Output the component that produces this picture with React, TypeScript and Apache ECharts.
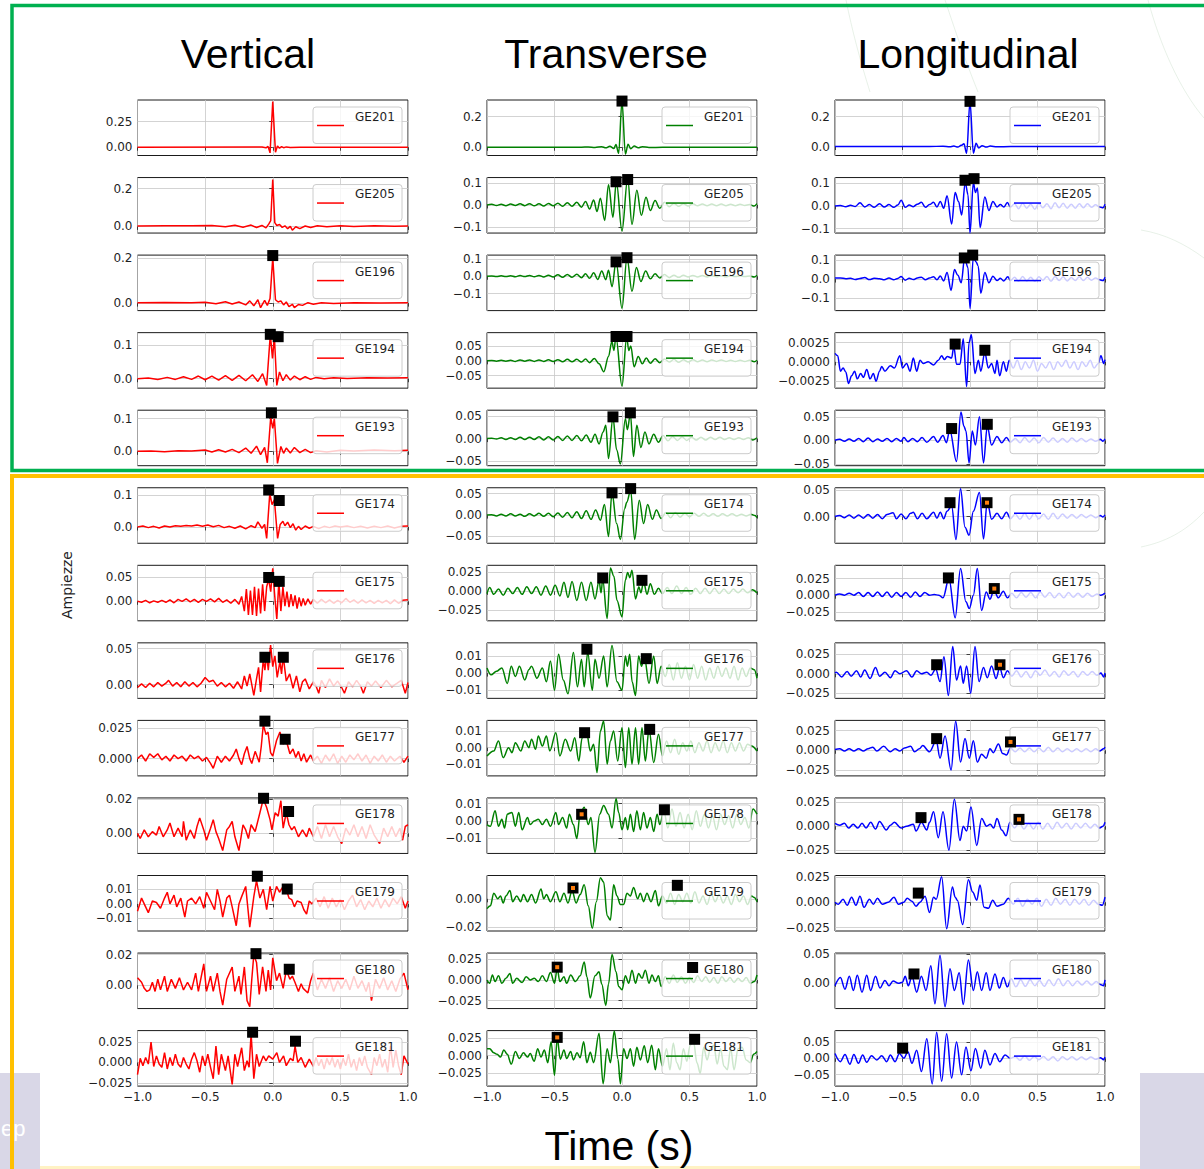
import React, { useEffect, useRef } from 'react';
import * as echarts from 'echarts';

const W = 1204;
const H = 1169;

const STATIONS = ['GE201', 'GE205', 'GE196', 'GE194', 'GE193', 'GE174', 'GE175', 'GE176', 'GE177', 'GE178', 'GE179', 'GE180', 'GE181'];
const COMPONENTS = ['Vertical', 'Transverse', 'Longitudinal'];
const COLORS = ['#ff0000', '#008000', '#0000ff'];
const X_TICK_STEP = 0.5;

// ---------------- Vertical component traces [time (s), amplitude] ----------------
const V_GE201 = [[-1,0],[-0.08,0.002],[-0.05,-0.006],[-0.035,0.008],[-0.02,-0.055],[0,0.445],[0.02,-0.05],[0.035,0.012],[0.05,-0.01],[0.065,0.006],[0.08,-0.005],[0.1,0.003],[0.13,-0.002],[0.2,0],[1,0]];
const V_GE205 = [[-1,0.002],[-0.8,0.004],[-0.6,0.003],[-0.45,0.005],[-0.35,-0.002],[-0.28,0.006],[-0.22,-0.004],[-0.16,0.007],[-0.12,-0.006],[-0.08,0.005],[-0.05,-0.008],[-0.03,0.012],[-0.015,0.03],[0,0.248],[0.015,0.02],[0.03,0.005],[0.05,0.01],[0.07,-0.005],[0.09,0.003],[0.11,-0.012],[0.13,0],[0.145,-0.02],[0.17,-0.002],[0.2,-0.012],[0.24,0.002],[0.28,-0.006],[0.33,0.004],[0.4,-0.002],[0.5,0.003],[0.6,0],[0.75,0.003],[0.9,0.001],[1,0.002]];
const V_GE196 = [[-1,0.002],[-0.8,0.003],[-0.6,0.002],[-0.5,0.004],[-0.42,-0.003],[-0.35,0.006],[-0.3,-0.004],[-0.25,0.005],[-0.2,-0.008],[-0.17,0.01],[-0.14,-0.012],[-0.11,0.015],[-0.09,-0.02],[-0.06,0.012],[-0.04,-0.01],[-0.02,0.02],[0,0.2],[0.02,0.015],[0.04,0.005],[0.06,0.01],[0.08,-0.008],[0.1,0.005],[0.12,-0.015],[0.145,-0.005],[0.16,-0.02],[0.19,-0.006],[0.22,-0.01],[0.26,0.002],[0.3,-0.005],[0.36,0.002],[0.45,-0.002],[0.6,0.002],[0.8,0],[1,0.002]];
const V_GE194 = [[-1,0],[-0.92,0.002],[-0.85,-0.002],[-0.78,0.004],[-0.72,-0.002],[-0.66,0.006],[-0.6,-0.002],[-0.55,0.008],[-0.5,-0.003],[-0.45,0.008],[-0.4,-0.004],[-0.35,0.009],[-0.3,-0.005],[-0.25,0.01],[-0.2,-0.006],[-0.15,0.012],[-0.11,-0.008],[-0.075,0.015],[-0.045,-0.02],[-0.018,0.132],[-0.002,0.06],[0.012,0.125],[0.03,-0.02],[0.05,0.02],[0.075,-0.006],[0.1,0.012],[0.13,-0.004],[0.16,0.008],[0.2,-0.003],[0.24,0.006],[0.28,-0.002],[0.32,0.004],[0.38,0],[0.45,0.003],[0.55,0.001],[0.7,0.003],[0.85,0.002],[1,0.003]];
const V_GE193 = [[-1,0],[-0.9,0.001],[-0.8,-0.001],[-0.7,0.002],[-0.6,0.001],[-0.5,0.004],[-0.45,-0.002],[-0.4,0.005],[-0.35,-0.002],[-0.3,0.006],[-0.25,-0.004],[-0.2,0.01],[-0.16,-0.006],[-0.12,0.016],[-0.09,-0.01],[-0.06,0.012],[-0.04,-0.035],[-0.015,0.105],[0,0.07],[0.012,0.1],[0.035,-0.037],[0.06,0.015],[0.08,-0.006],[0.1,0.01],[0.13,-0.005],[0.16,0.012],[0.2,-0.004],[0.24,0.006],[0.28,-0.004],[0.32,0.002],[0.4,-0.002],[0.5,0.003],[0.6,0.001],[0.75,0.004],[0.9,0.002],[1,0.003]];
const V_GE174 = [[-1,0],[-0.96,0.003],[-0.92,-0.002],[-0.88,0.002],[-0.84,-0.003],[-0.8,0.003],[-0.76,0],[-0.72,0.004],[-0.68,0.002],[-0.64,0.005],[-0.6,0.003],[-0.56,0.006],[-0.52,0.002],[-0.48,0.006],[-0.44,0.001],[-0.4,0.005],[-0.36,-0.002],[-0.32,0.002],[-0.28,-0.004],[-0.24,0.003],[-0.2,-0.006],[-0.16,0.004],[-0.13,-0.002],[-0.11,0.016],[-0.08,-0.004],[-0.06,0.008],[-0.045,-0.036],[-0.022,0.105],[-0.005,0.07],[0.012,0.085],[0.036,-0.036],[0.055,0.008],[0.075,0.018],[0.09,0.004],[0.11,0.015],[0.13,-0.002],[0.15,0.01],[0.17,-0.01],[0.19,0.002],[0.21,-0.008],[0.24,0.003],[0.27,-0.004],[0.3,0.002],[0.34,-0.005],[0.38,0.002],[0.42,-0.002],[0.46,0.003],[0.5,0],[0.55,0.003],[0.6,-0.002],[0.65,0.002],[0.7,-0.003],[0.75,0.002],[0.8,-0.002],[0.85,0.003],[0.9,-0.003],[0.95,0.002],[1,0.003]];
const V_GE175 = [[-1,0],[-0.97,-0.002],[-0.94,0.002],[-0.91,-0.003],[-0.88,0.001],[-0.85,-0.002],[-0.82,0.002],[-0.79,-0.002],[-0.76,0.003],[-0.73,-0.003],[-0.7,0.004],[-0.67,0],[-0.64,0.005],[-0.61,-0.001],[-0.58,0.004],[-0.55,-0.002],[-0.52,0.004],[-0.49,0],[-0.46,0.005],[-0.43,-0.001],[-0.4,0.006],[-0.37,-0.002],[-0.34,0.003],[-0.31,-0.004],[-0.28,0.004],[-0.25,-0.006],[-0.23,0.01],[-0.21,-0.02],[-0.195,0.025],[-0.18,-0.028],[-0.165,0.022],[-0.15,-0.028],[-0.135,0.03],[-0.12,-0.03],[-0.105,0.026],[-0.09,-0.025],[-0.075,0.035],[-0.06,-0.02],[-0.045,0.03],[-0.03,0.045],[-0.015,0.02],[0,0.068],[0.015,0.01],[0.03,-0.036],[0.045,0.04],[0.06,-0.02],[0.075,0.03],[0.09,-0.01],[0.105,0.02],[0.12,-0.012],[0.135,0.015],[0.15,-0.01],[0.165,0.012],[0.18,-0.015],[0.195,0.008],[0.21,-0.01],[0.225,0.006],[0.24,-0.008],[0.26,0.005],[0.28,-0.006],[0.3,0.004],[0.33,-0.004],[0.36,0.004],[0.39,-0.003],[0.42,0.003],[0.45,-0.004],[0.48,0.002],[0.51,-0.003],[0.54,0.006],[0.57,-0.002],[0.6,0.003],[0.63,-0.004],[0.66,0.003],[0.69,-0.003],[0.72,0.002],[0.75,-0.004],[0.78,0.002],[0.81,-0.003],[0.84,0.002],[0.87,-0.005],[0.9,0.003],[0.93,-0.004],[0.96,0.002],[1,0.003]];
const V_GE176 = [[-1,-0.004],[-0.97,0.001],[-0.94,-0.004],[-0.91,0.002],[-0.88,-0.003],[-0.85,0.003],[-0.82,-0.002],[-0.79,0.002],[-0.77,0.006],[-0.74,-0.002],[-0.71,0.003],[-0.68,-0.003],[-0.65,0.004],[-0.62,-0.002],[-0.59,0.003],[-0.56,-0.003],[-0.53,0.002],[-0.5,0.01],[-0.47,0.004],[-0.44,0.006],[-0.41,-0.002],[-0.38,0.003],[-0.35,-0.003],[-0.32,0.002],[-0.29,-0.005],[-0.26,0.004],[-0.23,-0.006],[-0.21,0.012],[-0.19,-0.002],[-0.17,0.015],[-0.14,-0.015],[-0.12,0.008],[-0.105,0.024],[-0.09,-0.01],[-0.07,0.035],[-0.058,0.02],[-0.045,0.042],[-0.033,0.02],[-0.016,0.055],[0,0.025],[0.016,0.04],[0.033,0.01],[0.053,0.032],[0.065,0.015],[0.077,0.04],[0.1,0.005],[0.125,0.015],[0.15,-0.005],[0.175,0.012],[0.2,-0.01],[0.22,0.004],[0.24,0.008],[0.27,-0.006],[0.3,0.004],[0.32,-0.002],[0.34,-0.012],[0.36,0.006],[0.39,-0.004],[0.42,0.008],[0.45,-0.002],[0.48,0.005],[0.51,-0.004],[0.53,-0.012],[0.56,0.004],[0.59,-0.003],[0.62,0.006],[0.65,-0.002],[0.67,-0.012],[0.7,0.004],[0.73,-0.002],[0.76,0.005],[0.8,-0.004],[0.84,0.006],[0.88,-0.003],[0.92,0.002],[0.95,0.006],[0.98,-0.012],[1,0.003]];
const V_GE177 = [[-1,0],[-0.97,0.003],[-0.94,-0.002],[-0.91,0.004],[-0.88,0.001],[-0.85,0.004],[-0.82,-0.001],[-0.79,0.002],[-0.76,-0.002],[-0.73,0.003],[-0.7,0],[-0.67,0.002],[-0.64,-0.002],[-0.61,0.003],[-0.58,0],[-0.55,0.002],[-0.52,-0.002],[-0.49,0.001],[-0.46,-0.004],[-0.44,-0.008],[-0.41,0.002],[-0.38,-0.003],[-0.35,0.002],[-0.32,-0.002],[-0.29,0.003],[-0.27,0.008],[-0.25,0],[-0.23,-0.005],[-0.21,0.004],[-0.19,0.01],[-0.17,0],[-0.155,-0.004],[-0.13,0.006],[-0.1,-0.003],[-0.085,0.01],[-0.07,0.028],[-0.05,0.02],[-0.035,0.022],[-0.016,0.005],[0,0.002],[0.028,0.015],[0.053,0.022],[0.077,0.012],[0.1,0.015],[0.127,0.004],[0.15,0.008],[0.17,0.001],[0.19,0.006],[0.21,-0.002],[0.23,0.004],[0.25,-0.003],[0.28,0.003],[0.3,-0.002],[0.33,0.002],[0.36,-0.004],[0.39,0.003],[0.42,-0.002],[0.45,0.004],[0.48,-0.004],[0.51,0.002],[0.54,-0.003],[0.57,0.003],[0.6,-0.001],[0.63,0.004],[0.66,-0.002],[0.69,0.003],[0.72,-0.004],[0.75,0.002],[0.78,-0.002],[0.81,0.003],[0.84,-0.003],[0.87,0.002],[0.9,-0.002],[0.94,0.002],[0.97,-0.003],[1,0.002]];
const V_GE178 = [[-1,0],[-0.98,-0.003],[-0.95,0.002],[-0.92,-0.002],[-0.89,0.001],[-0.86,-0.001],[-0.84,0.004],[-0.81,-0.002],[-0.78,0.002],[-0.76,0.006],[-0.73,-0.002],[-0.7,0.003],[-0.67,-0.002],[-0.66,0.007],[-0.64,-0.004],[-0.61,0.002],[-0.58,-0.003],[-0.56,0.004],[-0.54,0.009],[-0.51,0.002],[-0.49,-0.004],[-0.46,0.003],[-0.44,0.008],[-0.42,0.001],[-0.4,-0.003],[-0.37,-0.01],[-0.34,0.002],[-0.32,0.004],[-0.3,0.007],[-0.28,-0.002],[-0.25,-0.01],[-0.22,0.005],[-0.2,0.002],[-0.18,-0.003],[-0.16,0.005],[-0.13,0.001],[-0.095,0.012],[-0.07,0.02],[-0.045,0.015],[-0.02,0.008],[-0.006,0.002],[0.018,0.012],[0.04,0.01],[0.06,0.019],[0.077,0.003],[0.1,0.012],[0.12,0.005],[0.14,0.002],[0.16,0.004],[0.19,-0.002],[0.22,0.002],[0.25,-0.002],[0.27,0.003],[0.3,-0.002],[0.33,0.004],[0.36,-0.003],[0.39,0.005],[0.42,-0.002],[0.45,0.004],[0.48,-0.002],[0.51,-0.006],[0.54,0.003],[0.57,-0.001],[0.6,0.005],[0.63,-0.002],[0.66,0.004],[0.69,-0.003],[0.72,0.005],[0.75,-0.001],[0.79,-0.006],[0.82,0.003],[0.85,-0.002],[0.88,0.004],[0.91,-0.002],[0.94,0.003],[0.96,-0.004],[0.98,0.004],[1,0.005]];
const V_GE179 = [[-1,-0.005],[-0.97,0.004],[-0.94,-0.002],[-0.92,-0.006],[-0.89,0.002],[-0.86,0.001],[-0.83,-0.003],[-0.8,0.004],[-0.78,0.008],[-0.76,0],[-0.73,0.006],[-0.71,-0.002],[-0.68,0.004],[-0.65,-0.009],[-0.63,0.002],[-0.6,0.004],[-0.57,0],[-0.54,0.005],[-0.51,-0.003],[-0.49,0.008],[-0.46,0.002],[-0.43,-0.004],[-0.41,0.01],[-0.39,0.002],[-0.37,-0.009],[-0.34,0.004],[-0.32,0.006],[-0.3,-0.002],[-0.27,-0.015],[-0.25,0],[-0.23,0.005],[-0.2,0.012],[-0.17,-0.016],[-0.14,0.005],[-0.12,0.016],[-0.095,0.004],[-0.07,0.01],[-0.045,-0.004],[-0.02,0.012],[0,0.002],[0.028,0.012],[0.05,0.008],[0.077,0.012],[0.1,0.01],[0.12,0.004],[0.14,0.003],[0.16,-0.002],[0.18,0.002],[0.21,0.001],[0.23,-0.004],[0.25,-0.007],[0.27,0.002],[0.29,0],[0.32,0.004],[0.35,-0.002],[0.38,0.005],[0.41,-0.003],[0.44,0.004],[0.47,-0.002],[0.5,0.003],[0.53,-0.004],[0.56,0.002],[0.59,0.006],[0.62,-0.002],[0.65,0.003],[0.68,-0.004],[0.71,0.002],[0.74,-0.002],[0.77,0.004],[0.8,-0.003],[0.83,0.003],[0.86,-0.002],[0.89,0.004],[0.92,0],[0.95,0.005],[0.98,-0.003],[1,0.002]];
const V_GE180 = [[-1,0.005],[-0.97,0.002],[-0.95,-0.002],[-0.93,-0.004],[-0.91,-0.003],[-0.89,0.002],[-0.87,-0.004],[-0.85,0.004],[-0.83,-0.003],[-0.8,0.006],[-0.78,-0.004],[-0.75,0.004],[-0.72,-0.002],[-0.69,0.005],[-0.66,-0.003],[-0.63,0.002],[-0.6,-0.003],[-0.57,0.008],[-0.55,-0.004],[-0.51,0.014],[-0.49,-0.004],[-0.46,0.006],[-0.44,-0.004],[-0.41,0.008],[-0.39,-0.004],[-0.37,-0.013],[-0.34,0.004],[-0.3,0.012],[-0.28,-0.004],[-0.25,0.006],[-0.235,-0.006],[-0.21,0.012],[-0.19,-0.01],[-0.17,-0.014],[-0.155,0.004],[-0.14,0.02],[-0.12,0.015],[-0.1,-0.006],[-0.075,0.012],[-0.05,-0.004],[-0.033,0.01],[-0.016,-0.003],[0,0.018],[0.028,0.003],[0.05,0.008],[0.077,-0.002],[0.1,0.01],[0.127,0.004],[0.145,0.006],[0.164,0.002],[0.19,-0.004],[0.21,0.001],[0.225,-0.002],[0.26,-0.005],[0.28,0.003],[0.3,0.008],[0.33,-0.003],[0.36,0.004],[0.39,-0.002],[0.42,0.005],[0.45,-0.004],[0.48,0.003],[0.51,-0.002],[0.54,0.004],[0.57,-0.003],[0.6,0.006],[0.63,-0.002],[0.66,0.003],[0.69,-0.004],[0.71,0.002],[0.73,-0.01],[0.76,0.004],[0.79,-0.002],[0.82,0.005],[0.85,-0.003],[0.88,0.003],[0.91,-0.004],[0.94,0.004],[0.97,0.008],[1,-0.003]];
const V_GE181 = [[-1,-0.015],[-0.98,0.005],[-0.96,-0.004],[-0.94,0.006],[-0.92,-0.002],[-0.9,0.025],[-0.88,-0.005],[-0.86,0.008],[-0.84,-0.002],[-0.82,-0.006],[-0.8,0.012],[-0.78,-0.008],[-0.76,0.006],[-0.74,-0.004],[-0.72,0.01],[-0.7,-0.002],[-0.68,-0.006],[-0.66,0.006],[-0.64,-0.002],[-0.62,-0.008],[-0.6,0.004],[-0.58,0.012],[-0.56,0.002],[-0.54,-0.012],[-0.52,0.008],[-0.5,-0.004],[-0.48,0.01],[-0.46,-0.006],[-0.44,-0.02],[-0.42,0.02],[-0.4,-0.015],[-0.38,0.01],[-0.35,-0.01],[-0.33,0.008],[-0.3,-0.027],[-0.28,0.01],[-0.26,-0.005],[-0.23,0.018],[-0.21,-0.01],[-0.19,0.002],[-0.175,-0.006],[-0.16,0.035],[-0.14,-0.02],[-0.12,0.01],[-0.1,-0.005],[-0.07,0.008],[-0.05,0.002],[-0.03,0.008],[0,0.004],[0.03,0.012],[0.05,0],[0.08,0.008],[0.1,-0.004],[0.13,0.005],[0.15,0.002],[0.165,0.02],[0.185,0],[0.21,0.006],[0.24,-0.006],[0.27,0.004],[0.3,-0.005],[0.32,0.006],[0.34,-0.004],[0.36,0.004],[0.38,-0.008],[0.4,0.005],[0.42,-0.003],[0.44,0.006],[0.46,-0.006],[0.48,0.004],[0.5,-0.008],[0.52,0.005],[0.54,-0.004],[0.56,0.01],[0.58,-0.006],[0.6,0.004],[0.62,-0.01],[0.64,0.006],[0.66,-0.004],[0.68,0.008],[0.7,-0.006],[0.73,-0.015],[0.75,0.006],[0.77,-0.004],[0.79,0.01],[0.81,-0.006],[0.83,0.004],[0.85,-0.012],[0.87,0.02],[0.89,-0.006],[0.91,0.015],[0.93,-0.004],[0.95,-0.015],[0.97,0.008],[1,-0.002]];

// ---------------- Transverse component traces ----------------
const T_GE201 = [[-1,0],[-0.3,0],[-0.25,0.002],[-0.2,-0.002],[-0.15,0.004],[-0.12,-0.004],[-0.09,0.006],[-0.06,-0.008],[-0.045,0.018],[-0.025,-0.04],[0,0.3],[0.025,-0.045],[0.045,0.02],[0.065,-0.01],[0.09,0.008],[0.12,-0.004],[0.15,0.004],[0.2,-0.002],[0.3,0],[1,0]];
const T_GE205 = [[-1,0],[-0.965,0.003],[-0.93,-0.002],[-0.895,0.003],[-0.86,-0.003],[-0.825,0.004],[-0.79,-0.002],[-0.755,0.005],[-0.72,-0.003],[-0.685,0.006],[-0.65,-0.004],[-0.615,0.005],[-0.58,-0.005],[-0.545,0.007],[-0.51,-0.004],[-0.475,0.008],[-0.44,-0.006],[-0.405,0.01],[-0.37,-0.006],[-0.335,0.012],[-0.3,-0.01],[-0.27,0.016],[-0.24,-0.018],[-0.21,0.022],[-0.185,-0.03],[-0.16,0.03],[-0.128,-0.07],[-0.1,0.092],[-0.067,-0.055],[-0.042,0.105],[0,-0.118],[0.042,0.12],[0.074,-0.088],[0.11,0.067],[0.143,-0.047],[0.178,0.035],[0.21,-0.025],[0.245,0.02],[0.28,-0.015],[0.315,0.012],[0.35,-0.008],[0.385,0.007],[0.42,-0.006],[0.455,0.006],[0.49,-0.005],[0.525,0.005],[0.56,-0.004],[0.595,0.004],[0.63,-0.004],[0.665,0.004],[0.7,-0.003],[0.735,0.004],[0.77,-0.003],[0.805,0.003],[0.84,-0.003],[0.875,0.003],[0.91,-0.002],[0.945,0.002],[0.98,-0.005],[1,0.006]];
const T_GE196 = [[-1,0],[-0.965,0.002],[-0.93,-0.002],[-0.895,0.003],[-0.86,-0.002],[-0.825,0.003],[-0.79,-0.003],[-0.755,0.004],[-0.72,-0.002],[-0.685,0.005],[-0.65,-0.003],[-0.615,0.005],[-0.58,-0.004],[-0.545,0.006],[-0.51,-0.004],[-0.475,0.008],[-0.44,-0.006],[-0.405,0.01],[-0.37,-0.006],[-0.335,0.012],[-0.3,-0.008],[-0.27,0.014],[-0.24,-0.012],[-0.21,0.02],[-0.18,-0.018],[-0.15,0.03],[-0.12,-0.02],[-0.1,0.035],[-0.074,-0.06],[-0.044,0.085],[0,-0.185],[0.037,0.107],[0.074,-0.087],[0.107,0.05],[0.14,-0.03],[0.175,0.03],[0.21,-0.015],[0.245,0.015],[0.28,-0.01],[0.315,0.01],[0.35,-0.008],[0.385,0.006],[0.42,-0.006],[0.455,0.006],[0.49,-0.004],[0.525,0.005],[0.56,-0.004],[0.595,0.004],[0.63,-0.004],[0.665,0.004],[0.7,-0.003],[0.735,0.003],[0.77,-0.003],[0.805,0.003],[0.84,-0.002],[0.875,0.003],[0.91,-0.002],[0.945,0.002],[0.98,-0.004],[1,0.006]];
const T_GE194 = [[-1,0],[-0.965,0.001],[-0.93,-0.001],[-0.895,0.002],[-0.86,-0.001],[-0.825,0.002],[-0.79,-0.002],[-0.755,0.003],[-0.72,-0.001],[-0.685,0.003],[-0.65,-0.002],[-0.615,0.003],[-0.58,-0.002],[-0.545,0.004],[-0.51,-0.002],[-0.475,0.004],[-0.44,-0.003],[-0.405,0.005],[-0.37,-0.003],[-0.335,0.005],[-0.3,-0.004],[-0.27,0.006],[-0.24,-0.006],[-0.205,0.008],[-0.17,-0.01],[-0.135,-0.037],[-0.1,0.015],[-0.075,0.065],[-0.06,0.035],[-0.045,0.08],[0,-0.085],[0.035,0.08],[0.05,0.035],[0.065,0.05],[0.09,-0.02],[0.12,0.015],[0.15,-0.01],[0.18,0.01],[0.21,-0.008],[0.245,0.007],[0.28,-0.006],[0.315,0.006],[0.35,-0.004],[0.385,0.005],[0.42,-0.005],[0.455,0.004],[0.49,-0.004],[0.525,0.004],[0.56,-0.003],[0.595,0.003],[0.63,-0.003],[0.665,0.003],[0.7,-0.002],[0.735,0.003],[0.77,-0.002],[0.805,0.002],[0.84,-0.002],[0.875,0.002],[0.91,-0.002],[0.945,0.002],[0.98,-0.003],[1,0.002]];
const T_GE193 = [[-1,0],[-0.965,0.001],[-0.93,-0.001],[-0.895,0.002],[-0.86,-0.002],[-0.825,0.002],[-0.79,-0.002],[-0.755,0.003],[-0.72,-0.002],[-0.685,0.003],[-0.65,-0.002],[-0.615,0.004],[-0.58,-0.003],[-0.545,0.004],[-0.51,-0.003],[-0.475,0.005],[-0.44,-0.004],[-0.405,0.006],[-0.37,-0.004],[-0.335,0.007],[-0.3,-0.005],[-0.265,0.008],[-0.23,-0.008],[-0.2,0.01],[-0.17,-0.012],[-0.14,0.015],[-0.12,0.03],[-0.1,-0.045],[-0.067,0.048],[-0.04,-0.025],[-0.012,-0.057],[0.025,0.045],[0.04,0.02],[0.062,0.056],[0.085,-0.04],[0.11,0.03],[0.14,-0.02],[0.17,0.015],[0.2,-0.012],[0.235,0.01],[0.27,-0.008],[0.305,0.007],[0.34,-0.005],[0.375,0.005],[0.41,-0.004],[0.445,0.004],[0.48,-0.004],[0.515,0.003],[0.55,-0.003],[0.585,0.003],[0.62,-0.003],[0.655,0.003],[0.69,-0.002],[0.725,0.003],[0.76,-0.002],[0.795,0.002],[0.83,-0.002],[0.865,0.002],[0.9,-0.002],[0.935,0.002],[0.97,-0.003],[1,0.002]];
const T_GE174 = [[-1,0],[-0.965,0.001],[-0.93,-0.002],[-0.895,0.002],[-0.86,-0.002],[-0.825,0.003],[-0.79,-0.002],[-0.755,0.002],[-0.72,-0.003],[-0.685,0.003],[-0.65,-0.002],[-0.615,0.004],[-0.58,-0.003],[-0.545,0.004],[-0.51,-0.004],[-0.475,0.005],[-0.44,-0.005],[-0.405,0.006],[-0.37,-0.006],[-0.335,0.008],[-0.3,-0.008],[-0.265,0.01],[-0.23,-0.01],[-0.195,0.012],[-0.16,-0.012],[-0.13,0.025],[-0.1,-0.05],[-0.074,0.052],[-0.04,-0.02],[-0.012,-0.057],[0.02,0.015],[0.035,0.03],[0.064,0.058],[0.094,-0.057],[0.128,0.035],[0.16,-0.02],[0.19,0.025],[0.225,-0.01],[0.255,0.012],[0.29,-0.008],[0.325,0.006],[0.36,-0.006],[0.395,0.006],[0.43,-0.005],[0.465,0.004],[0.5,-0.004],[0.535,0.004],[0.57,-0.003],[0.605,0.004],[0.64,-0.003],[0.675,0.003],[0.71,-0.003],[0.745,0.003],[0.78,-0.002],[0.815,0.003],[0.85,-0.002],[0.885,0.002],[0.92,-0.002],[0.955,0.002],[0.985,-0.001],[1,-0.006]];
const T_GE175 = [[-1,-0.003],[-0.98,0.005],[-0.95,-0.004],[-0.915,0.003],[-0.88,-0.005],[-0.845,0.004],[-0.81,-0.003],[-0.775,0.005],[-0.74,-0.004],[-0.705,0.006],[-0.67,-0.003],[-0.635,0.006],[-0.6,-0.005],[-0.565,0.007],[-0.53,-0.005],[-0.495,0.008],[-0.46,-0.006],[-0.43,0.012],[-0.4,-0.008],[-0.37,0.013],[-0.335,-0.012],[-0.3,0.012],[-0.265,-0.012],[-0.23,0.012],[-0.2,-0.01],[-0.17,0.014],[-0.155,-0.002],[-0.143,0.016],[-0.11,-0.036],[-0.086,0.031],[-0.06,0.02],[-0.037,-0.012],[0,-0.034],[0.025,0.015],[0.042,0.025],[0.058,0.018],[0.074,0.028],[0.1,-0.01],[0.125,0.006],[0.14,-0.002],[0.16,0.013],[0.185,-0.004],[0.21,0.01],[0.24,-0.004],[0.27,0.004],[0.3,-0.003],[0.335,0.005],[0.37,-0.003],[0.405,0.007],[0.44,-0.003],[0.475,0.005],[0.51,-0.004],[0.545,0.004],[0.58,-0.003],[0.615,0.004],[0.65,-0.003],[0.685,0.004],[0.72,-0.003],[0.755,0.003],[0.79,-0.003],[0.825,0.003],[0.86,-0.002],[0.895,0.003],[0.93,-0.002],[0.965,0.002],[1,-0.002]];
const T_GE176 = [[-1,0.003],[-0.97,-0.001],[-0.93,0.001],[-0.89,0.003],[-0.85,-0.006],[-0.82,0.004],[-0.79,-0.002],[-0.76,0.004],[-0.72,-0.004],[-0.69,0.002],[-0.67,0.004],[-0.63,-0.003],[-0.59,0.003],[-0.56,-0.005],[-0.53,0.007],[-0.5,-0.01],[-0.47,0.011],[-0.435,-0.004],[-0.4,-0.012],[-0.36,0.012],[-0.33,-0.008],[-0.3,0.008],[-0.28,-0.008],[-0.254,0.012],[-0.22,-0.01],[-0.2,0.008],[-0.17,-0.003],[-0.136,0.01],[-0.11,-0.008],[-0.074,0.016],[-0.037,-0.005],[0,-0.01],[0.025,0.01],[0.04,0.004],[0.057,0.011],[0.075,-0.005],[0.1,-0.013],[0.123,0.01],[0.145,0.004],[0.165,0.01],[0.2,-0.006],[0.235,0.01],[0.26,-0.006],[0.29,0.004],[0.32,-0.002],[0.35,0.005],[0.38,-0.004],[0.41,0.006],[0.44,-0.003],[0.47,0.004],[0.5,-0.004],[0.53,0.005],[0.56,-0.003],[0.59,0.004],[0.62,-0.004],[0.65,0.003],[0.68,-0.003],[0.71,0.004],[0.74,-0.002],[0.77,0.003],[0.8,-0.003],[0.83,0.004],[0.86,-0.004],[0.89,0.003],[0.92,-0.002],[0.95,0.003],[0.98,0.002],[1,-0.003]];
const T_GE177 = [[-1,-0.005],[-0.95,-0.002],[-0.915,0.004],[-0.88,-0.006],[-0.84,0],[-0.815,-0.003],[-0.79,0.003],[-0.75,-0.002],[-0.72,0.004],[-0.69,0],[-0.67,0.005],[-0.64,-0.001],[-0.62,0.007],[-0.59,0.001],[-0.56,0.007],[-0.535,-0.002],[-0.49,0.009],[-0.46,-0.005],[-0.42,0.005],[-0.38,-0.002],[-0.35,0.006],[-0.32,-0.008],[-0.295,0.006],[-0.26,0.008],[-0.235,-0.002],[-0.21,0.002],[-0.185,-0.015],[-0.16,0.01],[-0.136,0.016],[-0.11,-0.01],[-0.086,0.004],[-0.062,0.01],[-0.032,-0.008],[0,0.012],[0.025,-0.012],[0.05,0.012],[0.074,-0.01],[0.1,0.012],[0.123,-0.01],[0.148,0.012],[0.173,-0.008],[0.2,0.011],[0.235,-0.009],[0.27,0.008],[0.3,-0.005],[0.33,0.004],[0.36,-0.003],[0.39,0.005],[0.42,-0.004],[0.45,0.003],[0.48,-0.002],[0.51,0.004],[0.54,-0.003],[0.57,0.003],[0.6,-0.002],[0.63,0.004],[0.66,-0.003],[0.69,0.003],[0.72,-0.002],[0.75,0.004],[0.78,-0.003],[0.81,0.003],[0.84,-0.002],[0.87,0.003],[0.9,-0.002],[0.93,0.002],[0.96,0.001],[1,-0.002]];
const T_GE178 = [[-1,-0.002],[-0.975,-0.003],[-0.94,0.006],[-0.915,-0.003],[-0.89,0.001],[-0.87,-0.004],[-0.85,0.004],[-0.815,0.005],[-0.79,-0.003],[-0.765,0.005],[-0.74,-0.005],[-0.7,0.002],[-0.68,-0.002],[-0.65,0],[-0.62,0.001],[-0.59,-0.002],[-0.56,0.001],[-0.53,-0.003],[-0.49,0.005],[-0.47,-0.002],[-0.44,0.002],[-0.41,-0.004],[-0.39,0.004],[-0.36,-0.002],[-0.335,-0.01],[-0.31,0.004],[-0.28,0.008],[-0.25,-0.002],[-0.23,0.002],[-0.2,-0.018],[-0.165,0.004],[-0.136,0.009],[-0.1,0.004],[-0.074,-0.004],[-0.044,0.013],[-0.025,0.005],[0,-0.005],[0.025,0.002],[0.042,-0.005],[0.062,0.004],[0.086,-0.006],[0.11,0.006],[0.136,-0.005],[0.16,0.005],[0.185,-0.004],[0.21,0.002],[0.235,-0.006],[0.26,0.004],[0.28,-0.002],[0.31,0.006],[0.34,-0.004],[0.37,0.007],[0.4,-0.003],[0.43,0.005],[0.46,-0.004],[0.49,0.004],[0.52,-0.005],[0.55,0.006],[0.58,-0.003],[0.61,0.004],[0.64,-0.004],[0.67,0.003],[0.7,-0.005],[0.73,0.004],[0.76,-0.002],[0.79,0.003],[0.82,-0.004],[0.85,0.004],[0.88,-0.002],[0.91,0.002],[0.94,-0.004],[0.97,0.007],[1,0.004]];
const T_GE179 = [[-1,-0.007],[-0.975,-0.005],[-0.95,0.004],[-0.92,0],[-0.9,0.002],[-0.88,-0.003],[-0.86,0.002],[-0.83,0.006],[-0.81,-0.002],[-0.78,0.002],[-0.75,-0.002],[-0.73,0.003],[-0.7,-0.002],[-0.67,0.003],[-0.64,-0.003],[-0.6,0.007],[-0.58,0],[-0.56,0.003],[-0.53,-0.002],[-0.49,0.005],[-0.46,-0.002],[-0.43,0.004],[-0.4,-0.003],[-0.37,0.006],[-0.34,-0.003],[-0.31,0.003],[-0.28,0.01],[-0.25,-0.005],[-0.22,-0.021],[-0.19,-0.002],[-0.16,0.015],[-0.136,0.012],[-0.11,-0.012],[-0.086,-0.015],[-0.062,0.01],[-0.037,0.002],[-0.012,-0.004],[0.012,-0.004],[0.037,0.004],[0.062,0.002],[0.086,0.008],[0.116,0],[0.136,0.004],[0.16,-0.002],[0.185,0.004],[0.215,-0.002],[0.247,0.006],[0.27,-0.005],[0.3,0.002],[0.33,-0.003],[0.36,0.004],[0.39,-0.004],[0.42,0.003],[0.45,-0.002],[0.48,0.004],[0.51,-0.003],[0.54,0.005],[0.57,-0.003],[0.6,0.002],[0.63,-0.004],[0.66,0.004],[0.69,-0.002],[0.72,0.003],[0.75,-0.003],[0.78,0.002],[0.81,-0.004],[0.84,0.003],[0.87,-0.002],[0.9,0.002],[0.93,-0.004],[0.96,0.002],[0.98,0.001],[1,-0.002]];
const T_GE180 = [[-1,0],[-0.98,-0.004],[-0.96,0.006],[-0.94,-0.002],[-0.915,0.005],[-0.89,-0.004],[-0.86,0.002],[-0.83,0.008],[-0.81,-0.004],[-0.78,0.002],[-0.74,-0.003],[-0.71,0.004],[-0.68,0],[-0.65,0.002],[-0.62,-0.002],[-0.59,0.005],[-0.56,-0.002],[-0.53,0.009],[-0.5,-0.004],[-0.48,0.014],[-0.46,-0.002],[-0.43,0.004],[-0.41,-0.004],[-0.38,0.006],[-0.345,-0.002],[-0.31,0.005],[-0.28,0.022],[-0.26,0.004],[-0.235,-0.022],[-0.2,0.005],[-0.17,0.01],[-0.15,-0.005],[-0.12,-0.031],[-0.1,-0.005],[-0.074,0.031],[-0.044,0.01],[-0.025,-0.008],[0,-0.012],[0.025,0.005],[0.05,-0.004],[0.074,0.012],[0.1,-0.004],[0.123,0.008],[0.148,0.002],[0.173,0.012],[0.2,-0.004],[0.222,0.006],[0.247,-0.002],[0.27,0.005],[0.29,-0.008],[0.32,0.004],[0.35,-0.004],[0.38,0.006],[0.41,-0.003],[0.44,0.004],[0.47,-0.004],[0.5,0.003],[0.53,-0.003],[0.56,0.005],[0.59,-0.002],[0.62,0.004],[0.65,-0.003],[0.68,0.003],[0.71,-0.004],[0.74,0.004],[0.77,-0.002],[0.8,0.003],[0.83,-0.003],[0.86,0.002],[0.89,-0.002],[0.92,0.003],[0.95,-0.004],[0.98,-0.002],[1,0.006]];
const T_GE181 = [[-1,0.01],[-0.98,0.01],[-0.95,0.004],[-0.925,0.002],[-0.9,-0.002],[-0.875,0.008],[-0.85,0.002],[-0.82,-0.012],[-0.79,0.006],[-0.76,-0.004],[-0.73,0.004],[-0.7,-0.002],[-0.68,0.003],[-0.65,-0.008],[-0.625,0.01],[-0.6,-0.002],[-0.575,0.008],[-0.55,-0.01],[-0.525,0.02],[-0.5,-0.028],[-0.48,0.025],[-0.457,-0.005],[-0.43,0.008],[-0.41,-0.004],[-0.38,0.006],[-0.36,-0.006],[-0.333,0.004],[-0.31,-0.003],[-0.284,0.02],[-0.26,-0.01],[-0.235,0.005],[-0.21,-0.01],[-0.17,0.032],[-0.14,-0.04],[-0.11,0.01],[-0.086,-0.01],[-0.057,0.035],[-0.03,-0.005],[-0.012,-0.04],[0.012,0.01],[0.037,-0.004],[0.062,0.01],[0.086,-0.015],[0.11,0.012],[0.136,-0.006],[0.165,0.014],[0.19,-0.01],[0.22,0.015],[0.247,-0.02],[0.27,0.01],[0.3,-0.015],[0.33,0.01],[0.355,-0.02],[0.38,0.018],[0.405,-0.01],[0.43,-0.02],[0.455,0.01],[0.48,-0.008],[0.505,0.015],[0.53,0.02],[0.555,-0.01],[0.58,-0.025],[0.605,0.012],[0.63,-0.006],[0.655,0.01],[0.68,0.015],[0.705,-0.012],[0.73,0.01],[0.755,-0.015],[0.78,-0.02],[0.805,0.01],[0.83,-0.02],[0.86,0.01],[0.89,0.012],[0.92,-0.006],[0.95,-0.01],[0.975,0.002],[1,0.006]];

// ---------------- Longitudinal component traces ----------------
const L_GE201 = [[-1,0],[-0.3,0],[-0.2,0.002],[-0.15,-0.002],[-0.12,0.003],[-0.09,-0.004],[-0.065,0.008],[-0.045,0.018],[-0.025,-0.045],[0,0.3],[0.025,-0.045],[0.045,0.022],[0.065,-0.01],[0.09,0.006],[0.12,-0.004],[0.15,0.003],[0.2,-0.002],[0.3,0],[1,0]];
const L_GE205 = [[-1,0],[-0.96,0.002],[-0.92,-0.003],[-0.885,0.003],[-0.85,-0.002],[-0.815,0.014],[-0.78,-0.004],[-0.745,0.006],[-0.71,-0.006],[-0.67,0.01],[-0.635,-0.005],[-0.6,0.006],[-0.565,-0.006],[-0.535,0.004],[-0.51,0.025],[-0.48,-0.006],[-0.45,0.004],[-0.42,-0.003],[-0.39,0.008],[-0.36,0.016],[-0.33,-0.006],[-0.3,0.006],[-0.27,0.016],[-0.245,-0.004],[-0.22,0.02],[-0.195,-0.01],[-0.17,0.045],[-0.136,-0.08],[-0.11,0.06],[-0.085,0.02],[-0.062,-0.04],[-0.035,0.105],[-0.015,0.05],[0,-0.12],[0.025,0.105],[0.04,0.06],[0.055,0.08],[0.075,-0.095],[0.11,0.04],[0.14,-0.02],[0.17,0.02],[0.2,-0.004],[0.225,0.006],[0.25,-0.005],[0.277,0.015],[0.3,-0.005],[0.33,0.01],[0.36,-0.012],[0.39,0.012],[0.42,-0.01],[0.45,0.008],[0.48,-0.015],[0.51,0.012],[0.54,-0.008],[0.57,0.01],[0.6,-0.012],[0.63,0.014],[0.66,-0.008],[0.69,0.012],[0.72,-0.01],[0.75,0.008],[0.78,-0.01],[0.81,0.01],[0.84,-0.008],[0.87,0.01],[0.9,-0.006],[0.93,0.005],[0.96,-0.004],[0.985,-0.008],[1,0.008]];
const L_GE196 = [[-1,0.005],[-0.96,0.006],[-0.92,0.002],[-0.885,0.004],[-0.85,-0.002],[-0.815,0.003],[-0.78,0.008],[-0.745,-0.003],[-0.71,0.004],[-0.67,0.002],[-0.635,-0.004],[-0.6,0.005],[-0.565,-0.004],[-0.535,0.003],[-0.51,0.013],[-0.48,-0.006],[-0.45,0.004],[-0.42,-0.003],[-0.39,0.006],[-0.36,0.01],[-0.33,-0.004],[-0.3,0.006],[-0.27,0.012],[-0.245,-0.004],[-0.22,0.016],[-0.195,-0.01],[-0.17,0.035],[-0.14,-0.06],[-0.115,0.05],[-0.09,0.02],[-0.065,-0.02],[-0.04,0.11],[-0.015,0.06],[0,-0.155],[0.025,0.115],[0.045,0.09],[0.06,0.07],[0.08,-0.075],[0.11,0.035],[0.14,-0.02],[0.17,0.015],[0.2,-0.008],[0.225,0.004],[0.25,-0.01],[0.28,0.012],[0.3,-0.008],[0.33,0.01],[0.36,-0.012],[0.39,0.014],[0.42,-0.01],[0.45,0.01],[0.48,-0.012],[0.51,0.012],[0.54,-0.006],[0.57,0.014],[0.6,-0.012],[0.63,0.014],[0.66,-0.008],[0.69,0.012],[0.72,-0.01],[0.75,0.008],[0.78,-0.008],[0.81,0.012],[0.84,-0.008],[0.87,0.01],[0.9,-0.006],[0.93,0.006],[0.96,-0.004],[0.985,-0.008],[1,0.01]];
const L_GE194 = [[-1,0.0011],[-0.98,0.0008],[-0.96,-0.0012],[-0.94,-0.0008],[-0.92,-0.0013],[-0.9,-0.0028],[-0.877,-0.0018],[-0.855,-0.0012],[-0.835,-0.0022],[-0.81,-0.0015],[-0.79,-0.002],[-0.765,-0.001],[-0.74,-0.0022],[-0.716,-0.0015],[-0.696,-0.0025],[-0.67,-0.0012],[-0.654,-0.0006],[-0.63,-0.0012],[-0.59,-0.0005],[-0.56,-0.0008],[-0.52,0.0008],[-0.5,-0.0008],[-0.47,-0.0002],[-0.444,-0.0012],[-0.42,0.0005],[-0.395,-0.0012],[-0.37,0.0002],[-0.346,-0.0002],[-0.31,0],[-0.27,-0.0004],[-0.235,0.0002],[-0.21,0.0008],[-0.19,0.0003],[-0.168,0.0007],[-0.136,0.0005],[-0.12,0.002],[-0.1,-0.0003],[-0.074,-0.0003],[-0.05,0.003],[-0.025,-0.0032],[-0.007,0.0025],[0.01,0.0035],[0.037,-0.0015],[0.062,0.0002],[0.08,-0.0012],[0.11,0.0012],[0.136,-0.0008],[0.16,-0.0002],[0.185,-0.0015],[0.2,0.0002],[0.22,-0.0018],[0.247,0],[0.27,-0.0012],[0.29,0.0002],[0.32,-0.0008],[0.35,0.0002],[0.38,-0.001],[0.41,0],[0.44,-0.0008],[0.47,0.0002],[0.5,-0.0012],[0.53,-0.0002],[0.56,-0.0008],[0.59,0],[0.62,-0.001],[0.65,0],[0.68,-0.0006],[0.71,0.0002],[0.74,-0.0008],[0.77,0],[0.8,-0.001],[0.83,0],[0.86,-0.0006],[0.89,0.0002],[0.92,-0.0008],[0.95,-0.0002],[0.97,0.0008],[0.99,-0.0002],[1,0.0003]];
const L_GE193 = [[-1,0],[-0.965,0.002],[-0.93,-0.002],[-0.895,0.003],[-0.86,-0.002],[-0.825,0.004],[-0.79,-0.003],[-0.755,0.005],[-0.72,-0.003],[-0.685,0.003],[-0.65,-0.002],[-0.615,0.004],[-0.58,-0.003],[-0.545,0.004],[-0.51,-0.002],[-0.49,0.006],[-0.46,-0.003],[-0.425,0.004],[-0.39,-0.003],[-0.355,0.006],[-0.32,-0.004],[-0.27,0.008],[-0.24,-0.004],[-0.2,0.01],[-0.175,-0.005],[-0.15,0.022],[-0.1,-0.045],[-0.067,0.06],[-0.045,0.03],[-0.03,0.02],[-0.007,-0.048],[0.017,0.02],[0.04,-0.01],[0.07,0.05],[0.1,-0.048],[0.128,0.03],[0.16,-0.01],[0.2,0.008],[0.235,-0.005],[0.27,0.006],[0.3,-0.004],[0.335,0.004],[0.37,-0.005],[0.405,0.006],[0.44,-0.004],[0.475,0.005],[0.51,-0.005],[0.545,0.006],[0.58,-0.004],[0.615,0.005],[0.65,-0.004],[0.685,0.004],[0.72,-0.004],[0.755,0.005],[0.79,-0.003],[0.825,0.004],[0.86,-0.003],[0.895,0.003],[0.93,-0.002],[0.965,0.002],[0.985,-0.002],[1,0.003]];
const L_GE174 = [[-1,0],[-0.965,0.002],[-0.93,-0.002],[-0.895,0.003],[-0.86,-0.003],[-0.825,0.003],[-0.79,-0.003],[-0.755,0.004],[-0.72,-0.003],[-0.685,0.004],[-0.65,-0.004],[-0.615,0.004],[-0.57,0.007],[-0.545,-0.004],[-0.51,0.005],[-0.475,-0.004],[-0.44,0.006],[-0.42,0.008],[-0.39,-0.004],[-0.355,0.006],[-0.32,-0.004],[-0.27,0.008],[-0.245,-0.003],[-0.22,0.008],[-0.195,-0.004],[-0.17,0.01],[-0.136,0.02],[-0.104,-0.043],[-0.07,0.052],[-0.037,-0.02],[-0.007,-0.035],[0.025,0.01],[0.07,0.045],[0.1,-0.042],[0.128,0.028],[0.16,-0.005],[0.2,0.006],[0.235,-0.004],[0.27,0.008],[0.3,-0.004],[0.335,0.005],[0.37,-0.005],[0.405,0.006],[0.44,-0.005],[0.475,0.006],[0.51,-0.004],[0.545,0.005],[0.58,-0.005],[0.615,0.006],[0.65,-0.004],[0.685,0.005],[0.72,-0.003],[0.755,0.004],[0.79,-0.003],[0.825,0.004],[0.86,-0.002],[0.895,0.003],[0.93,-0.002],[0.965,0.002],[0.985,-0.001],[1,0.003]];
const L_GE175 = [[-1,0],[-0.965,0.002],[-0.93,0],[-0.895,0.003],[-0.86,0],[-0.825,0.004],[-0.79,-0.002],[-0.755,0.004],[-0.72,-0.002],[-0.685,0.005],[-0.65,-0.002],[-0.615,0.005],[-0.58,-0.003],[-0.545,0.004],[-0.51,-0.002],[-0.475,0.004],[-0.44,-0.003],[-0.405,0.005],[-0.37,-0.002],[-0.335,0.004],[-0.3,0],[-0.265,0.001],[-0.23,0],[-0.2,-0.004],[-0.156,0.025],[-0.11,-0.034],[-0.07,0.04],[-0.03,-0.01],[-0.005,-0.02],[0.025,0],[0.054,0.04],[0.086,-0.023],[0.12,0.005],[0.148,-0.006],[0.178,0.008],[0.21,-0.004],[0.247,0.006],[0.277,-0.004],[0.31,0.003],[0.345,-0.004],[0.38,0.004],[0.415,-0.003],[0.45,0.004],[0.485,-0.004],[0.52,0.005],[0.555,-0.003],[0.59,0.004],[0.625,-0.004],[0.66,0.003],[0.695,-0.004],[0.73,0.004],[0.765,-0.003],[0.8,0.003],[0.835,-0.003],[0.87,0.003],[0.905,-0.002],[0.94,0.002],[0.97,0],[1,0.003]];
const L_GE176 = [[-1,0.001],[-0.99,0.002],[-0.95,-0.004],[-0.91,0.003],[-0.88,-0.003],[-0.84,0.004],[-0.81,-0.004],[-0.78,0.005],[-0.74,-0.006],[-0.7,0.008],[-0.67,-0.003],[-0.63,0.002],[-0.59,-0.005],[-0.555,0.004],[-0.52,0],[-0.47,0.004],[-0.43,-0.004],[-0.395,0.004],[-0.36,0],[-0.32,0.002],[-0.29,-0.002],[-0.254,0.006],[-0.222,-0.01],[-0.193,0.022],[-0.16,-0.028],[-0.128,0.035],[-0.1,-0.008],[-0.07,0.01],[-0.05,-0.012],[-0.025,0.01],[0.005,-0.025],[0.037,0.035],[0.067,-0.01],[0.1,0.008],[0.128,-0.005],[0.16,0.01],[0.193,-0.006],[0.22,0.008],[0.247,-0.005],[0.277,0.004],[0.31,-0.003],[0.345,0.004],[0.38,-0.004],[0.415,0.003],[0.45,-0.005],[0.485,0.004],[0.52,-0.002],[0.555,0.005],[0.59,-0.003],[0.625,0.003],[0.66,-0.004],[0.695,0.004],[0.73,-0.002],[0.765,0.003],[0.8,-0.004],[0.835,0.003],[0.87,-0.002],[0.905,0.003],[0.94,-0.002],[0.97,0.001],[0.99,-0.004],[1,0.001]];
const L_GE177 = [[-1,0.001],[-0.965,0.002],[-0.93,-0.001],[-0.895,0.002],[-0.86,-0.001],[-0.825,0.002],[-0.79,-0.001],[-0.755,0.002],[-0.72,0.004],[-0.69,-0.001],[-0.64,0.005],[-0.59,-0.002],[-0.555,0.002],[-0.52,-0.001],[-0.485,0.003],[-0.44,0.005],[-0.41,-0.002],[-0.375,0.002],[-0.35,0.006],[-0.3,-0.002],[-0.25,0.012],[-0.222,-0.01],[-0.185,0.018],[-0.14,-0.025],[-0.106,0.037],[-0.07,-0.015],[-0.037,0.015],[-0.005,-0.01],[0.025,0.012],[0.054,-0.015],[0.086,-0.005],[0.12,-0.01],[0.148,0.002],[0.173,-0.003],[0.21,0.008],[0.242,-0.004],[0.27,-0.006],[0.3,0.003],[0.335,-0.002],[0.37,0.003],[0.405,-0.002],[0.44,0.003],[0.475,-0.002],[0.51,0.003],[0.545,-0.002],[0.58,0.004],[0.615,-0.002],[0.65,0.003],[0.685,-0.002],[0.72,0.002],[0.755,-0.002],[0.79,0.002],[0.825,-0.002],[0.86,0.002],[0.895,-0.002],[0.93,0.002],[0.96,-0.001],[0.99,0.002],[1,0.004]];
const L_GE178 = [[-1,0.003],[-0.965,0.001],[-0.93,0.003],[-0.9,-0.002],[-0.865,0.002],[-0.83,-0.002],[-0.8,0.003],[-0.77,-0.002],[-0.735,0.004],[-0.7,-0.003],[-0.67,0.005],[-0.62,-0.004],[-0.59,0.001],[-0.56,0.004],[-0.51,-0.002],[-0.47,0],[-0.42,0.002],[-0.4,-0.005],[-0.36,0.004],[-0.32,-0.004],[-0.3,0.004],[-0.27,0.015],[-0.235,-0.012],[-0.2,0.015],[-0.156,-0.025],[-0.116,0.028],[-0.074,-0.015],[-0.05,0],[-0.025,-0.005],[0.007,0.02],[0.05,-0.02],[0.086,0.008],[0.123,0],[0.15,0.002],[0.175,-0.002],[0.2,0.008],[0.235,-0.004],[0.267,-0.01],[0.296,0.004],[0.33,-0.002],[0.365,0.004],[0.4,-0.003],[0.435,0.003],[0.47,-0.003],[0.505,0.004],[0.54,-0.003],[0.575,0.003],[0.61,-0.003],[0.645,0.004],[0.68,-0.002],[0.715,0.003],[0.75,-0.003],[0.785,0.003],[0.82,-0.002],[0.855,0.003],[0.89,-0.002],[0.925,0.002],[0.96,-0.002],[0.985,0],[1,0.004]];
const L_GE179 = [[-1,0],[-0.975,-0.002],[-0.94,0.003],[-0.91,-0.003],[-0.877,0.005],[-0.845,-0.003],[-0.815,0.006],[-0.785,-0.005],[-0.745,0.003],[-0.716,-0.002],[-0.686,0.004],[-0.65,-0.002],[-0.605,0],[-0.563,0.005],[-0.53,-0.002],[-0.49,0],[-0.465,0.004],[-0.43,0.001],[-0.4,-0.004],[-0.37,0],[-0.333,0.006],[-0.3,-0.01],[-0.27,0.005],[-0.25,0.003],[-0.21,0.025],[-0.173,-0.026],[-0.13,0.015],[-0.11,0.005],[-0.094,0.002],[-0.054,-0.022],[-0.012,0.022],[0.02,0.01],[0.05,0.002],[0.074,0.017],[0.104,-0.005],[0.136,-0.006],[0.168,0.002],[0.2,-0.004],[0.247,-0.002],[0.284,0.004],[0.32,-0.002],[0.355,0.004],[0.39,-0.004],[0.425,0.003],[0.46,-0.002],[0.495,0.004],[0.53,-0.004],[0.565,0.003],[0.6,-0.003],[0.635,0.004],[0.67,-0.002],[0.705,0.003],[0.74,-0.003],[0.775,0.003],[0.81,-0.002],[0.845,0.003],[0.88,-0.003],[0.915,0.002],[0.95,-0.002],[0.98,-0.003],[1,0.005]];
const L_GE180 = [[-1,-0.004],[-0.96,0.01],[-0.926,-0.01],[-0.894,0.012],[-0.864,-0.012],[-0.835,0.014],[-0.8,-0.015],[-0.765,0.014],[-0.736,-0.012],[-0.7,0.012],[-0.667,-0.008],[-0.63,0.005],[-0.6,-0.004],[-0.57,0.004],[-0.53,0],[-0.5,0.002],[-0.48,0.012],[-0.457,-0.004],[-0.43,0.012],[-0.395,-0.015],[-0.36,0.012],[-0.326,-0.012],[-0.29,0.03],[-0.26,-0.035],[-0.222,0.048],[-0.185,-0.04],[-0.148,0.025],[-0.116,-0.012],[-0.08,0.018],[-0.05,-0.036],[-0.012,0.04],[0.025,-0.012],[0.054,0.02],[0.086,-0.012],[0.12,0.018],[0.148,-0.012],[0.185,0.016],[0.217,-0.008],[0.247,0.01],[0.277,-0.006],[0.305,0.008],[0.34,-0.006],[0.375,0.006],[0.41,-0.005],[0.445,0.006],[0.48,-0.004],[0.515,0.005],[0.55,-0.005],[0.585,0.006],[0.62,-0.004],[0.655,0.008],[0.69,-0.004],[0.725,0.005],[0.76,-0.004],[0.795,0.004],[0.83,-0.003],[0.865,0.004],[0.9,-0.003],[0.935,0.003],[0.965,-0.002],[0.99,-0.004],[1,0.006]];
const L_GE181 = [[-1,0.015],[-0.96,-0.01],[-0.926,0.012],[-0.89,-0.018],[-0.86,0.012],[-0.827,-0.015],[-0.795,0.01],[-0.765,-0.012],[-0.73,0.008],[-0.69,-0.005],[-0.654,0.008],[-0.617,-0.01],[-0.59,0.01],[-0.555,-0.01],[-0.523,0.015],[-0.49,0],[-0.46,0.02],[-0.43,-0.015],[-0.395,0.025],[-0.36,-0.04],[-0.32,0.06],[-0.28,-0.078],[-0.247,0.08],[-0.21,-0.07],[-0.173,0.075],[-0.136,-0.06],[-0.1,0.05],[-0.062,-0.05],[-0.03,0.035],[0.007,-0.038],[0.04,0.03],[0.08,-0.03],[0.11,0.025],[0.148,-0.02],[0.185,0.015],[0.22,-0.01],[0.26,0.01],[0.3,0],[0.335,0.006],[0.37,-0.006],[0.405,0.008],[0.44,-0.006],[0.475,0.006],[0.51,-0.004],[0.545,0.006],[0.58,-0.006],[0.615,0.005],[0.65,-0.008],[0.685,0.005],[0.72,-0.004],[0.755,0.005],[0.79,-0.005],[0.825,0.004],[0.86,-0.004],[0.895,0.004],[0.93,-0.003],[0.965,0.002],[0.99,-0.004],[1,0.004]];

const TRACES = [
  [V_GE201, T_GE201, L_GE201],
  [V_GE205, T_GE205, L_GE205],
  [V_GE196, T_GE196, L_GE196],
  [V_GE194, T_GE194, L_GE194],
  [V_GE193, T_GE193, L_GE193],
  [V_GE174, T_GE174, L_GE174],
  [V_GE175, T_GE175, L_GE175],
  [V_GE176, T_GE176, L_GE176],
  [V_GE177, T_GE177, L_GE177],
  [V_GE178, T_GE178, L_GE178],
  [V_GE179, T_GE179, L_GE179],
  [V_GE180, T_GE180, L_GE180],
  [V_GE181, T_GE181, L_GE181],
];

// y-axis limits per row: [V, T, L]
const Y_LIMITS = [
  [[-0.081, 0.461], [-0.054, 0.309], [-0.06, 0.311]],
  [[-0.035, 0.258], [-0.127, 0.124], [-0.12, 0.126]],
  [[-0.033, 0.212], [-0.198, 0.122], [-0.166, 0.126]],
  [[-0.028, 0.137], [-0.092, 0.095], [-0.0034, 0.00378]],
  [[-0.044, 0.126], [-0.061, 0.064], [-0.054, 0.064]],
  [[-0.051, 0.123], [-0.066, 0.064], [-0.05, 0.054]],
  [[-0.04, 0.074], [-0.039, 0.0345], [-0.0385, 0.045]],
  [[-0.019, 0.058], [-0.0147, 0.0176], [-0.0315, 0.0397]],
  [[-0.0143, 0.0316], [-0.017, 0.0164], [-0.0326, 0.038]],
  [[-0.0117, 0.0206], [-0.0186, 0.0133], [-0.0284, 0.0294]],
  [[-0.0186, 0.0195], [-0.0229, 0.0166], [-0.0283, 0.0263]],
  [[-0.0152, 0.0211], [-0.0348, 0.0328], [-0.043, 0.0517]],
  [[-0.029, 0.039], [-0.0433, 0.0357], [-0.0847, 0.0847]],
];

// y tick values per row: [V, T, L]
const Y_TICKS = [
  [[0, 0.25], [0, 0.2], [0, 0.2]],
  [[0, 0.2], [-0.1, 0, 0.1], [-0.1, 0, 0.1]],
  [[0, 0.2], [-0.1, 0, 0.1], [-0.1, 0, 0.1]],
  [[0, 0.1], [-0.05, 0, 0.05], [-0.0025, 0, 0.0025]],
  [[0, 0.1], [-0.05, 0, 0.05], [-0.05, 0, 0.05]],
  [[0, 0.1], [-0.05, 0, 0.05], [0, 0.05]],
  [[0, 0.05], [-0.025, 0, 0.025], [-0.025, 0, 0.025]],
  [[0, 0.05], [-0.01, 0, 0.01], [-0.025, 0, 0.025]],
  [[0, 0.025], [-0.01, 0, 0.01], [-0.025, 0, 0.025]],
  [[0, 0.02], [-0.01, 0, 0.01], [-0.025, 0, 0.025]],
  [[-0.01, 0, 0.01], [-0.02, 0], [-0.025, 0, 0.025]],
  [[0, 0.02], [-0.025, 0, 0.025], [0, 0.05]],
  [[-0.025, 0, 0.025], [-0.025, 0, 0.025], [-0.05, 0, 0.05]],
];

// decimals of the y tick labels per row: [V, T, L]
const Y_DECIMALS = [
  [2, 1, 1], [1, 1, 1], [1, 1, 1], [1, 2, 4], [1, 2, 2], [1, 2, 2], [2, 3, 3],
  [2, 2, 3], [3, 2, 3], [2, 2, 3], [2, 2, 3], [2, 3, 2], [3, 3, 2],
];

const X_TICK_DECIMALS = 1;

// picks: [time, amplitude, highlighted(1 = orange centre)]
const PICKS = [
  [[], [[0, 0.302, 0]], [[0, 0.302, 0]]],
  [[], [[-0.044, 0.105, 0], [0.042, 0.115, 0]], [[-0.037, 0.114, 0], [0.03, 0.121, 0]]],
  [[[0, 0.21, 0]], [[-0.044, 0.083, 0], [0.037, 0.107, 0]], [[-0.042, 0.111, 0], [0.02, 0.126, 0]]],
  [[[-0.018, 0.132, 0], [0.04, 0.125, 0]], [[-0.044, 0.082, 0], [0, 0.082, 0], [0.037, 0.082, 0]], [[-0.11, 0.0023, 0], [0.11, 0.0015, 0]]],
  [[[-0.01, 0.118, 0]], [[-0.067, 0.049, 0], [0.062, 0.058, 0]], [[-0.136, 0.025, 0], [0.128, 0.034, 0]]],
  [[[-0.03, 0.116, 0], [0.048, 0.083, 0]], [[-0.074, 0.052, 0], [0.064, 0.062, 0]], [[-0.148, 0.026, 0], [0.126, 0.026, 1]]],
  [[[-0.03, 0.049, 0], [0.048, 0.041, 0]], [[-0.143, 0.0177, 0], [0.148, 0.0146, 0]], [[-0.16, 0.026, 0], [0.18, 0.01, 1]]],
  [[[-0.058, 0.038, 0], [0.078, 0.038, 0]], [[-0.26, 0.0139, 0], [0.18, 0.0084, 0]], [[-0.247, 0.0116, 0], [0.222, 0.0116, 1]]],
  [[[-0.058, 0.031, 0], [0.092, 0.016, 0]], [[-0.277, 0.009, 0], [0.205, 0.011, 0]], [[-0.247, 0.0148, 0], [0.3, 0.0106, 1]]],
  [[[-0.068, 0.0204, 0], [0.117, 0.0127, 0]], [[-0.299, 0.0039, 1], [0.314, 0.0065, 0]], [[-0.363, 0.0089, 0], [0.363, 0.0071, 1]]],
  [[[-0.114, 0.019, 0], [0.107, 0.0102, 0]], [[-0.363, 0.0077, 1], [0.41, 0.0096, 0]], [[-0.383, 0.009, 0]]],
  [[[-0.124, 0.0207, 0], [0.122, 0.0105, 0]], [[-0.48, 0.0156, 1], [0.523, 0.0152, 0]], [[-0.415, 0.016, 0]]],
  [[[-0.149, 0.037, 0], [0.168, 0.026, 0]], [[-0.48, 0.026, 1], [0.538, 0.0233, 0]], [[-0.499, 0.031, 0]]],
];

// ---------------- layout ----------------
const COL_LEFT = [137.5, 487, 835];
const COL_W = [270.5, 270, 270];
const ROW_TOP0 = 100;
const ROW_STEP = 77.55;
const PLOT_H = 55.5;
const FONT = "'DejaVu Sans', 'Noto Sans', sans-serif";
const TITLE_FONT = "'Liberation Sans', Arial, sans-serif";
const TEXT_COLOR = '#1f1f1f';
const GRID_COLOR = '#c8c8c8';

const fmt = (v: number, d: number) => (v < -1e-12 ? '\u2212' : '') + Math.abs(v).toFixed(d);

function buildOption() {
  const grids: any[] = [];
  const xAxes: any[] = [];
  const yAxes: any[] = [];
  const series: any[] = [];
  const graphics: any[] = [];

  // background decorations (slide)
  graphics.push({ type: 'rect', z: 0, shape: { x: 0, y: 1073, width: 40, height: 96 }, style: { fill: '#d9d7e7' } });
  graphics.push({ type: 'rect', z: 0, shape: { x: 1140, y: 1073, width: 64, height: 96 }, style: { fill: '#d9d7e7' } });
  graphics.push({ type: 'text', z: 1, x: 1, y: 1128, style: { text: 'ep', fontSize: 22, fontFamily: TITLE_FONT, fill: '#ffffff', verticalAlign: 'middle', align: 'left' } });
  const arcStyle = { stroke: 'rgba(150,190,150,0.22)', lineWidth: 1, fill: 'none' };
  graphics.push({ type: 'bezierCurve', z: 0, shape: { x1: 846, y1: 0, cpx1: 852, cpy1: 30, cpx2: 860, cpy2: 60, x2: 870, y2: 92 }, style: arcStyle });
  graphics.push({ type: 'bezierCurve', z: 0, shape: { x1: 945, y1: 0, cpx1: 955, cpy1: 30, cpx2: 965, cpy2: 60, x2: 978, y2: 92 }, style: arcStyle });
  graphics.push({ type: 'bezierCurve', z: 0, shape: { x1: 1148, y1: 0, cpx1: 1160, cpy1: 45, cpx2: 1180, cpy2: 90, x2: 1204, y2: 118 }, style: arcStyle });
  graphics.push({ type: 'bezierCurve', z: 0, shape: { x1: 1141, y1: 230, cpx1: 1165, cpy1: 234, cpx2: 1185, cpy2: 244, x2: 1204, y2: 258 }, style: arcStyle });
  graphics.push({ type: 'bezierCurve', z: 0, shape: { x1: 1141, y1: 547, cpx1: 1165, cpy1: 542, cpx2: 1185, cpy2: 532, x2: 1204, y2: 512 }, style: arcStyle });

  // coloured frames
  graphics.push({ type: 'polyline', z: 1, shape: { points: [[1210, 5.5], [12, 5.5], [12, 470.5], [1210, 470.5]] }, style: { stroke: '#00b050', lineWidth: 3.5, fill: 'none' } });
  graphics.push({ type: 'polyline', z: 1, shape: { points: [[1210, 476], [12, 476], [12, 1172]] }, style: { stroke: '#ffc000', lineWidth: 4, fill: 'none' } });
  graphics.push({ type: 'line', z: 1, shape: { x1: 40, y1: 1167.5, x2: 1140, y2: 1167.5 }, style: { stroke: '#fff2c4', lineWidth: 3 } });

  // titles
  const titleX = [248, 606, 968];
  COMPONENTS.forEach((name, c) => {
    graphics.push({ type: 'text', z: 5, x: titleX[c], y: 54, style: { text: name, fontSize: 41, fontFamily: TITLE_FONT, fill: '#000', align: 'center', verticalAlign: 'middle' } });
  });
  graphics.push({ type: 'text', z: 5, x: 619, y: 1146, style: { text: 'Time (s)', fontSize: 41, fontFamily: TITLE_FONT, fill: '#000', align: 'center', verticalAlign: 'middle' } });
  graphics.push({ type: 'text', z: 5, x: 67, y: 585, rotation: Math.PI / 2, style: { text: 'Ampiezze', fontSize: 14, fontFamily: FONT, fill: TEXT_COLOR, align: 'center', verticalAlign: 'middle' } });

  STATIONS.forEach((station, r) => {
    for (let c = 0; c < 3; c++) {
      const idx = r * 3 + c;
      const left = COL_LEFT[c];
      const top = ROW_TOP0 + r * ROW_STEP;
      const color = COLORS[c];
      const [ymin, ymax] = Y_LIMITS[r][c];
      const ticks = Y_TICKS[r][c];
      const dec = Y_DECIMALS[r][c];

      grids.push({ left, top, width: COL_W[c], height: PLOT_H, show: true, borderColor: '#1a1a1a', borderWidth: 1, backgroundColor: 'transparent', containLabel: false });

      xAxes.push({
        type: 'value', gridIndex: idx, min: -1, max: 1, interval: X_TICK_STEP,
        axisLine: { show: false },
        axisTick: { show: true, inside: false, length: 3.5, lineStyle: { color: '#1a1a1a', width: 0.8 } },
        axisLabel: { show: r === STATIONS.length - 1, formatter: (v: number) => fmt(v, X_TICK_DECIMALS), fontSize: 12, fontFamily: FONT, color: TEXT_COLOR, margin: 5 },
        splitLine: { show: true, lineStyle: { color: GRID_COLOR, width: 0.8 } },
      });

      yAxes.push({
        type: 'value', gridIndex: idx, min: ymin, max: ymax,
        axisLine: { show: false },
        axisTick: { show: true, inside: false, length: 3.5, customValues: ticks, lineStyle: { color: '#1a1a1a', width: 0.8 } },
        axisLabel: { customValues: ticks, formatter: (v: number) => fmt(v, dec), fontSize: 12, fontFamily: FONT, color: TEXT_COLOR, margin: 5 },
        splitLine: { show: true, lineStyle: { color: GRID_COLOR, width: 0.8 } },
      });

      series.push({
        type: 'line', name: COMPONENTS[c] + ' ' + station, xAxisIndex: idx, yAxisIndex: idx,
        data: TRACES[r][c], showSymbol: false, symbol: 'none',
        smooth: c === 0 ? false : 0.35, smoothMonotone: 'x',
        lineStyle: { color, width: 1.5 }, itemStyle: { color }, z: 2, silent: true,
      });

      const picks = PICKS[r][c];
      if (picks.length) {
        series.push({
          type: 'scatter', xAxisIndex: idx, yAxisIndex: idx, data: picks.map((p: number[]) => [p[0], p[1]]),
          symbol: 'rect', symbolSize: 11, itemStyle: { color: '#000000', opacity: 1 }, z: 60, clip: false, silent: true,
        });
        const hi = picks.filter((p: number[]) => p[2] === 1).map((p: number[]) => [p[0], p[1]]);
        if (hi.length) {
          series.push({
            type: 'scatter', xAxisIndex: idx, yAxisIndex: idx, data: hi,
            symbol: 'rect', symbolSize: 4, itemStyle: { color: '#ff7f0e', opacity: 1 }, z: 61, clip: false, silent: true,
          });
        }
      }

      // legend box (semi-transparent like matplotlib)
      const bx = left + COL_W[c] - 95;
      const by = top + 7;
      graphics.push({ type: 'rect', z: 50, shape: { x: bx, y: by, width: 89, height: 36.5, r: 3 }, style: { fill: 'rgba(255,255,255,0.8)', stroke: '#cccccc', lineWidth: 1 } });
      graphics.push({ type: 'line', z: 51, shape: { x1: bx + 4, y1: by + 18.5, x2: bx + 31, y2: by + 18.5 }, style: { stroke: color, lineWidth: 1.5 } });
      graphics.push({ type: 'text', z: 51, x: bx + 42, y: by + 9.5, style: { text: station, fontSize: 12, fontFamily: FONT, fill: TEXT_COLOR, align: 'left', verticalAlign: 'middle' } });
    }
  });

  return {
    animation: false,
    backgroundColor: '#ffffff',
    grid: grids,
    xAxis: xAxes,
    yAxis: yAxes,
    series,
    graphic: { elements: graphics },
  };
}

export default function App() {
  const ref = useRef<HTMLDivElement>(null);
  useEffect(() => {
    if (!ref.current) return;
    const chart = echarts.init(ref.current, null, { renderer: 'svg', width: W, height: H });
    chart.setOption(buildOption() as any);
    return () => chart.dispose();
  }, []);
  return <div ref={ref} style={{ position: 'absolute', left: 0, top: 0, width: W, height: H }} />;
}
